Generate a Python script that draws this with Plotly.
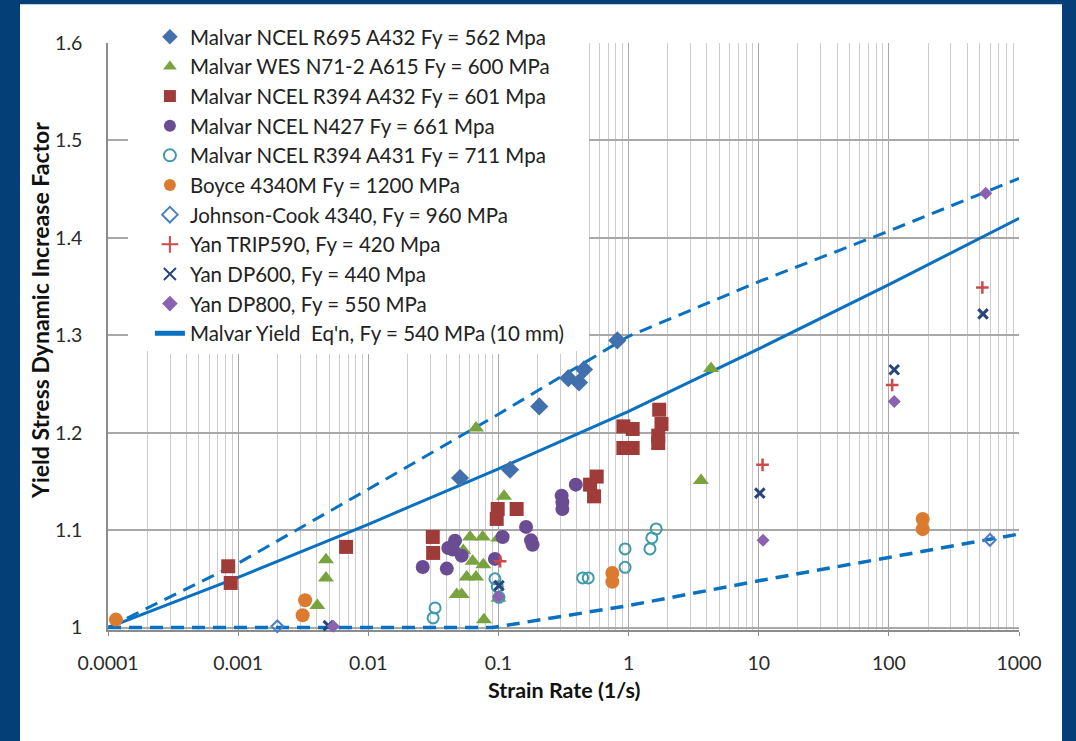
import plotly.graph_objects as go

# ---------------- data ----------------
x_tick_vals = [0.0001, 0.001, 0.01, 0.1, 1, 10, 100, 1000]
x_tick_text = ["0.0001", "0.001", "0.01", "0.1", "1", "10", "100", "1000"]
y_tick_vals = [1.0, 1.1, 1.2, 1.3, 1.4, 1.5, 1.6]
y_tick_text = ["1", "1.1", "1.2", "1.3", "1.4", "1.5", "1.6"]

line_rate = [0.0001, 0.001, 0.01, 0.1, 1, 10, 100, 1000]
malvar_eq = [1.0, 1.0515, 1.106, 1.163, 1.222, 1.286, 1.352, 1.42]
upper_bound = [1.0, 1.066, 1.142, 1.219, 1.299, 1.355, 1.407, 1.461]
lower_rate = [0.0001, 0.09, 1, 10, 100, 1000]
lower_bound = [1.0, 1.0, 1.0226, 1.048, 1.072, 1.096]

r695_x = [0.0507, 0.1228, 0.206, 0.344, 0.416, 0.454, 0.82]
r695_y = [1.1535, 1.162, 1.227, 1.256, 1.2516, 1.265, 1.2947]

wes_x = [0.00406, 0.00473, 0.00473, 0.0478, 0.0522, 0.057, 0.0673, 0.0537, 0.0634,
         0.0765, 0.0605, 0.0757, 0.0673, 0.0774, 0.1, 0.1, 0.1104, 3.6, 4.30]
wes_y = [1.0226, 1.051, 1.0697, 1.034, 1.034, 1.052, 1.052, 1.079, 1.068,
         1.0646, 1.093, 1.093, 1.2048, 1.008, 1.03, 1.092, 1.1347, 1.151, 1.266]

r394a432_x = [0.000839, 0.000877, 0.00675, 0.0313, 0.0315, 0.0987, 0.097, 0.138,
              0.506, 0.543, 0.569, 0.912, 1.075, 0.912, 1.075, 1.72, 1.79, 1.69, 1.69]
r394a432_y = [1.0629, 1.0458, 1.0828, 1.093, 1.0766, 1.1217, 1.1115, 1.1217,
              1.1467, 1.1347, 1.155, 1.2065, 1.2038, 1.1843, 1.1843, 1.2236, 1.209, 1.197, 1.1894]

n427_x = [0.0262, 0.0401, 0.0412, 0.0464, 0.0447, 0.0522, 0.094, 0.1077, 0.163,
          0.178, 0.183, 0.306, 0.31, 0.31, 0.393]
n427_y = [1.0622, 1.0605, 1.0817, 1.0892, 1.080, 1.0738, 1.0705, 1.093, 1.1033,
          1.0895, 1.085, 1.1354, 1.129, 1.1217, 1.1467]

r394a431_x = [0.0315, 0.0326, 0.094, 0.098, 0.101, 0.444, 0.49, 0.94, 0.94, 1.46, 1.51, 1.63]
r394a431_y = [1.0099, 1.0202, 1.050, 1.042, 1.031, 1.051, 1.051, 1.0618, 1.0807, 1.0807, 1.092, 1.1012]

boyce_x = [0.000115, 0.00313, 0.00327, 0.75, 0.75, 182, 182]
boyce_y = [1.0082, 1.0126, 1.028, 1.047, 1.056, 1.101, 1.1115]

jc_x = [0.002, 598]
jc_y = [1.0013, 1.090]

trip590_x = [0.103, 10.7, 106, 523]
trip590_y = [1.068, 1.167, 1.249, 1.349]

dp600_x = [0.00493, 0.101, 10.2, 110, 529]
dp600_y = [1.002, 1.043, 1.138, 1.2646, 1.322]

dp800_x = [0.00538, 0.1, 10.8, 110, 555]
dp800_y = [1.0013, 1.0315, 1.0895, 1.232, 1.4458]

# ---------------- figure ----------------
FONT = "Lato"
LINE_BLUE = "#0A70C2"

fig = go.Figure()

fig.add_trace(go.Scatter(x=line_rate, y=upper_bound, mode="lines", showlegend=False,
                         line=dict(color=LINE_BLUE, width=3, dash="13px,8px"),
                         cliponaxis=False, hoverinfo="skip"))
fig.add_trace(go.Scatter(x=lower_rate, y=lower_bound, mode="lines", showlegend=False,
                         line=dict(color=LINE_BLUE, width=3.5, dash="13px,8px"),
                         cliponaxis=False, hoverinfo="skip"))
fig.add_trace(go.Scatter(x=line_rate, y=malvar_eq, mode="lines",
                         name="Malvar Yield  Eq'n, Fy = 540 MPa (10 mm)",
                         line=dict(color=LINE_BLUE, width=3), legendrank=1100,
                         cliponaxis=False))

series = [
    ("Malvar NCEL R695 A432 Fy = 562 Mpa", r695_x, r695_y,
     dict(symbol="diamond", size=14, color="#4170AC")),
    ("Malvar WES N71-2 A615 Fy = 600 MPa", wes_x, wes_y,
     dict(symbol="triangle-up", size=14, color="#79A33E")),
    ("Malvar NCEL R394 A432 Fy = 601 Mpa", r394a432_x, r394a432_y,
     dict(symbol="square", size=14, color="#9F3B39")),
    ("Malvar NCEL N427 Fy = 661 Mpa", n427_x, n427_y,
     dict(symbol="circle", size=14, color="#6A4C93")),
    ("Malvar NCEL R394 A431 Fy = 711 Mpa", r394a431_x, r394a431_y,
     dict(symbol="circle-open", size=11, color="#3E9AAA", line=dict(width=2, color="#3E9AAA"))),
    ("Boyce 4340M Fy = 1200 MPa", boyce_x, boyce_y,
     dict(symbol="circle", size=14, color="#DC7B30")),
    ("Johnson-Cook 4340, Fy = 960 MPa", jc_x, jc_y,
     dict(symbol="diamond-open", size=9, color="#4A7FC1", line=dict(width=2, color="#4A7FC1"))),
    ("Yan TRIP590, Fy = 420 Mpa", trip590_x, trip590_y,
     dict(symbol="cross-thin-open", size=9, color="#D04848", line=dict(width=2.5, color="#D04848"))),
    ("Yan DP600, Fy = 440 Mpa", dp600_x, dp600_y,
     dict(symbol="x-thin-open", size=9.5, color="#28467A", line=dict(width=3, color="#28467A"))),
    ("Yan DP800, Fy = 550 MPa", dp800_x, dp800_y,
     dict(symbol="diamond", size=10, color="#8A62B0")),
]
for name, xs, ys, mk in series:
    fig.add_trace(go.Scatter(x=xs, y=ys, mode="markers", name=name, marker=mk,
                             cliponaxis=False))

minor_vals = [m * 10.0 ** e for e in range(-4, 3) for m in range(2, 10)]

fig.update_xaxes(type="log", range=[-4, 3], tickmode="array",
                 tickvals=x_tick_vals, ticktext=x_tick_text,
                 showgrid=True, gridcolor="#A8A8A8", gridwidth=1,
                 showline=True, linecolor="#8C8C8C", linewidth=1.5,
                 ticks="outside", ticklen=4, tickcolor="#8C8C8C",
                 ticklabelstandoff=11, layer="below traces",
                 tickfont=dict(family=FONT, size=19.5, color="#2A2A2A"),
                 minor=dict(tickmode="array", tickvals=minor_vals, showgrid=True,
                            gridcolor="#CCCCCC", gridwidth=1, ticks=""),
                 zeroline=False)
# a hair of room below 1.0 so the dashed baseline is not clipped in half
fig.update_yaxes(range=[0.9975, 1.6], tickmode="array",
                 tickvals=y_tick_vals, ticktext=y_tick_text,
                 showgrid=True, gridcolor="#A8A8A8", gridwidth=1.5,
                 showline=True, linecolor="#8C8C8C", linewidth=1.5,
                 ticks="", ticklabelstandoff=20, layer="below traces",
                 tickfont=dict(family=FONT, size=19.5, color="#2A2A2A"),
                 zeroline=False)

fig.update_layout(
    width=1076, height=741,
    margin=dict(l=108, r=57, t=43, b=111, autoexpand=False),
    paper_bgcolor="#043F78", plot_bgcolor="white",
    font=dict(family=FONT, color="#222222"),
    showlegend=True,
    legend=dict(x=0.046, y=1.0444, xanchor="left", yanchor="top",
                bgcolor="white", borderwidth=0, itemsizing="constant",
                font=dict(family=FONT, size=20.5, color="#222222"),
                tracegroupgap=0),
    shapes=[
        dict(type="rect", xref="paper", yref="paper", layer="below",
             x0=-0.0966, x1=1.0472, y0=-0.3, y1=1.066,
             fillcolor="white", line=dict(width=0)),
        dict(type="rect", xref="paper", yref="paper", layer="above",
             x0=0.022, x1=0.528, y0=0.4752, y1=1.0393,
             fillcolor="white", line=dict(width=0)),
    ],
    annotations=[
        dict(text="<b>Strain Rate (1/s)</b>", xref="paper", yref="paper",
             x=0.5, y=-0.103, xanchor="center", yanchor="middle", showarrow=False,
             font=dict(family=FONT, size=21.5, color="#111111")),
        dict(text="<b>Yield Stress Dynamic Increase Factor</b>", xref="paper", yref="paper",
             x=-0.0746, y=0.5436, xanchor="center", yanchor="middle", showarrow=False,
             textangle=-90, font=dict(family=FONT, size=23, color="#111111")),
    ],
)

fig.write_html("out.html")
